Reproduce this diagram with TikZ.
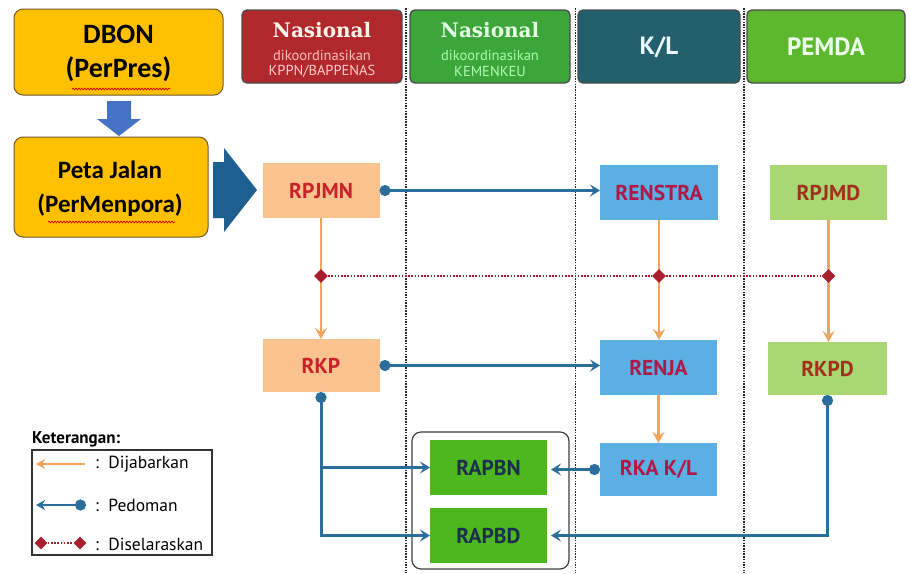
\documentclass[tikz,border=0pt]{standalone}
\usepackage{fontspec}
\setmainfont{PT Sans}
\newfontfamily\calfont{Carlito}
\newfontfamily\serfont{DejaVu Serif}
\usetikzlibrary{arrows.meta,decorations.pathmorphing,shapes.geometric,calc}
\definecolor{gold}{HTML}{FFC000}
\definecolor{goldline}{HTML}{6E5A2A}
\definecolor{dnblue}{HTML}{4472C4}
\definecolor{chev}{HTML}{1D5F8E}
\definecolor{hred}{HTML}{B0272C}
\definecolor{hgreen}{HTML}{3DA63B}
\definecolor{hteal}{HTML}{22606E}
\definecolor{hpem}{HTML}{5DB82E}
\definecolor{orbox}{HTML}{FAC28F}
\definecolor{blbox}{HTML}{5BAFE2}
\definecolor{lgbox}{HTML}{A9D771}
\definecolor{gnbox}{HTML}{4CB81D}
\definecolor{redtxt}{HTML}{C8232B}
\definecolor{crim}{HTML}{B0184A}
\definecolor{brtxt}{HTML}{A3301C}
\definecolor{navy}{HTML}{1B2E4E}
\definecolor{pedc}{HTML}{2B6E9B}
\definecolor{orc}{HTML}{F2A55A}
\definecolor{diac}{HTML}{A8202E}
\begin{document}
\begin{tikzpicture}[x=1pt,y=-1pt,
  gbox/.style={draw=goldline,line width=1pt,fill=gold,rounded corners=9pt,inner sep=0pt,outer sep=0pt},
  gtxt/.style={font=\calfont\bfseries\fontsize{25}{28}\selectfont,text=black,inner sep=0pt},
  box/.style={inner sep=0pt,outer sep=0pt,minimum width=117pt,minimum height=55pt,font=\bfseries\fontsize{21.5}{24}\selectfont},
  orn/.style={box,fill=orbox,text=redtxt},
  blu/.style={box,fill=blbox,text=crim},
  lgr/.style={box,fill=lgbox,text=brtxt},
  grn/.style={box,fill=gnbox,text=navy},
  hdr/.style={draw=black!70,line width=1.4pt,rounded corners=5pt,inner sep=0pt,outer sep=0pt,minimum height=73pt},
  htitle/.style={font=\serfont\bfseries\fontsize{20}{22}\selectfont,inner sep=0pt},
  hsmall/.style={font=\fontsize{14.5}{15}\selectfont,inner sep=0pt},
  hbig/.style={font=\bfseries\fontsize{25}{27}\selectfont,inner sep=0pt},
  sepline/.style={black!85,line width=1.2pt,dash pattern=on 1.5pt off 1.2pt},
  ped/.style={pedc,line width=3pt,{Circle[length=11pt,width=11pt]}-{Stealth[length=10pt,width=12pt,inset=4pt]}},
  pedb/.style={pedc,line width=3pt,-{Stealth[length=10pt,width=12pt,inset=4pt]}},
  jab/.style={orc,line width=2.6pt,-{Stealth[length=11pt,width=12pt,inset=4pt]}},
  dia/.style={diamond,fill=diac,inner sep=0pt,minimum size=14pt},
  sel/.style={diac,line width=1.8pt,dash pattern=on 1.6pt off 1.6pt},
  wavy/.style={red!85!black,line width=0.7pt,decorate,decoration={snake,amplitude=0.9pt,segment length=3pt}},
  lgtxt/.style={font=\fontsize{17.5}{19}\selectfont,inner sep=0pt,anchor=west},
]
\useasboundingbox (0,0) rectangle (910,573);
\fill[white] (0,0) rectangle (910,573);

% column separators
\draw[sepline] (406,8) -- (406,573);
\draw[sepline] (575.5,8) -- (575.5,573);
\draw[sepline] (744,8) -- (744,573);

% left boxes
\node[gbox,minimum width=209pt,minimum height=86pt] (dbon) at (118.5,52) {};
\node[gtxt,font=\calfont\bfseries\fontsize{28}{30}\selectfont] (dbon1) at (118.5,34) {DBON};
\node[gtxt,font=\calfont\bfseries\fontsize{28}{30}\selectfont] (dbon2) at (118.5,69) {(PerPres)};
\draw[wavy] (72,89) -- (170,89);
\node[gbox,minimum width=194pt,minimum height=100pt] (peta) at (111,187) {};
\node[gtxt] (peta1) at (110,170) {Peta Jalan};
\node[gtxt] (peta2) at (110,205) {(PerMenpora)};
\draw[wavy] (48,222) -- (175,222);
\fill[dnblue] (107,101) -- (131,101) -- (131,119) -- (141,119) -- (119,136) -- (97,119) -- (107,119) -- cycle;
\fill[chev] (213,162) -- (224,162) -- (224,148) -- (257,190) -- (224,232) -- (224,218) -- (213,218) -- cycle;

% headers
\node[hdr,fill=hred,minimum width=160pt] (h1) at (322,46.5) {};
\node[htitle,text=white!92!orange] at (322,30) {Nasional};
\node[hsmall,text=red!25!white] at (322,55) {dikoordinasikan};
\node[hsmall,text=red!20!white] at (322,71) {KPPN/BAPPENAS};
\node[hdr,fill=hgreen,minimum width=160pt] (h2) at (490,46.5) {};
\node[htitle,text=green!10!white] at (490,30) {Nasional};
\node[hsmall,text=green!35!white] at (490,55) {dikoordinasikan};
\node[hsmall,text=green!30!white] at (490,71) {KEMENKEU};
\node[hdr,fill=hteal,minimum width=162pt] (h3) at (659,46.5) {};
\node[hbig,text=cyan!8!white] at (659,47) {K/L};
\node[hdr,fill=hpem,minimum width=158pt] (h4) at (826,46.5) {};
\node[hbig,text=green!8!white] at (826,47) {PEMDA};

% group box
\node[draw=black!75,line width=1.2pt,rounded corners=9pt,minimum width=157pt,minimum height=137pt,inner sep=0pt,outer sep=0pt] (grp) at (490.5,500.5) {};

% document nodes
\node[orn] (rpjmn) at (321,190.5) {RPJMN};
\node[blu,minimum width=118pt] (renstra) at (659,192.5) {RENSTRA};
\node[lgr] (rpjmd) at (828.5,192.5) {RPJMD};
\node[orn,minimum height=53pt] (rkp) at (321,365.5) {RKP};
\node[blu] (renja) at (658.5,367.5) {RENJA};
\node[lgr,minimum width=119pt,minimum height=53pt] (rkpd) at (827.5,368.5) {RKPD};
\node[blu,minimum height=53pt] (rka) at (658.5,469.5) {RKA K/L};
\node[grn] (rapbn) at (488.5,467.5) {RAPBN};
\node[grn] (rapbd) at (488.5,535.5) {RAPBD};

% dijabarkan
\draw[jab] (rpjmn.south) -- (rkp.north);
\draw[jab] (renstra.south) -- (renstra.south |- renja.north);
\draw[jab] (rpjmd.south) -- (rpjmd.south |- rkpd.north);
\draw[jab] (renja.south) -- (renja.south |- rka.north);

% diselaraskan
\coordinate (dy) at (0,276);
\node[dia] (d1) at (rpjmn.south |- dy) {};
\node[dia] (d2) at (renstra.south |- dy) {};
\node[dia] (d3) at (rpjmd.south |- dy) {};
\draw[sel] (d1) -- (d2);
\draw[sel] (d2) -- (d3);

% pedoman
\draw[ped] (rpjmn.east) -- (rpjmn.east -| renstra.west);
\draw[ped] (rkp.east) -- (rkp.east -| renja.west);
\draw[ped] (rkp.south) |- (rapbd.west);
\draw[pedb] (rkp.south |- rapbn.west) -- (rapbn.west);
\draw[ped,shorten >=4pt] (rka.west) -- (rka.west -| rapbn.east);
\draw[ped,shorten >=4pt] (rkpd.south) |- (rapbd.east);

% legend
\node[font=\bfseries\fontsize{17}{19}\selectfont,inner sep=0pt,anchor=base west] (ket) at (32,443) {Keterangan:};
\node[draw=black!80,line width=1.2pt,minimum width=180pt,minimum height=105pt,inner sep=0pt,outer sep=0pt] (leg) at (122,502.5) {};
\coordinate (l1a) at (36,464);
\coordinate (l1b) at (85,464);
\draw[orc,line width=2.6pt,-{Stealth[length=9pt,width=10pt,inset=3pt]}] (l1b) -- (l1a);
\node[lgtxt] (t1) at (95,464) {:\ \ Dijabarkan};
\coordinate (l2a) at (36,505);
\coordinate (l2b) at (86,505);
\draw[pedc,line width=2.8pt,{Circle[length=11pt,width=11pt]}-{Stealth[length=9pt,width=10pt,inset=3pt]}] (l2b) -- (l2a);
\node[lgtxt] (t2) at (95,505) {:\ \ Pedoman};
\node[dia,minimum size=13pt] (ld1) at (41,543) {};
\node[dia,minimum size=13pt] (ld2) at (80,543) {};
\draw[sel] (ld1) -- (ld2);
\node[lgtxt] (t3) at (95,544) {:\ \ Diselaraskan};
\end{tikzpicture}
\end{document}
